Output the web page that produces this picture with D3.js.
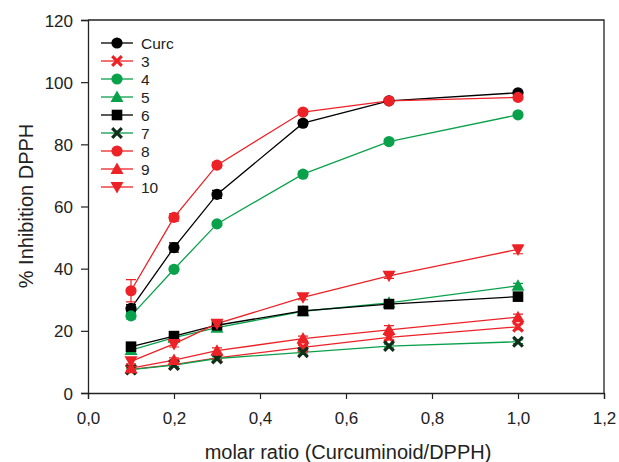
<!DOCTYPE html>
<html>
<head>
<meta charset="utf-8">
<script src="https://cdn.jsdelivr.net/npm/d3@7"></script>
<style>
  html, body { margin: 0; padding: 0; background: #fff; }
  svg { display: block; font-family: "Liberation Sans", Arial, sans-serif; }
</style>
</head>
<body>
<svg id="chart" width="619" height="462"></svg>
<script>
// Molar ratios tested
const ratios = [0.1, 0.2, 0.3, 0.5, 0.7, 1.0];

// % inhibition of DPPH per compound
const curc = [27.2, 46.8, 63.9, 86.8, 94.0, 96.6];
const c3   = [7.6, 9.1, 11.3, 14.7, 17.9, 21.3];
const c4   = [24.8, 39.8, 54.4, 70.4, 80.9, 89.5];
const c5   = [13.8, 17.8, 21.0, 26.3, 29.0, 34.5];
const c6   = [14.9, 18.3, 21.8, 26.4, 28.6, 31.0];
const c7   = [7.5, 9.0, 11.1, 13.1, 15.1, 16.5];
const c8   = [32.9, 56.5, 73.3, 90.4, 94.0, 95.1];
const c9   = [8.0, 10.6, 13.6, 17.5, 20.3, 24.4];
const c10  = [10.2, 15.8, 22.3, 30.8, 37.7, 46.2];

// Standard deviations
const errCurc = [1.2, 1.5, 1.3, 0.8, 0.6, 0.5];
const err3    = [0.5, 0.5, 0.5, 0.6, 0.8, 0.9];
const err4    = [1.0, 0.6, 0.6, 0.8, 0.7, 0.6];
const err5    = [0.8, 0.6, 0.6, 0.6, 0.7, 0.8];
const err6    = [0.9, 0.8, 0.7, 0.6, 0.8, 0.8];
const err7    = [0.5, 0.5, 0.6, 0.6, 0.6, 0.6];
const err8    = [3.6, 1.2, 0.8, 0.6, 0.6, 0.6];
const err9    = [0.6, 0.7, 0.9, 0.8, 1.4, 1.0];
const err10   = [0.8, 1.0, 0.8, 0.8, 0.8, 1.4];

const seriesNames = ["Curc", "3", "4", "5", "6", "7", "8", "9", "10"];

// Axis tick values
const xTicks = [0, 0.2, 0.4, 0.6, 0.8, 1.0, 1.2];
const yTicks = [0, 20, 40, 60, 80, 100, 120];

const RED = "#ec2227", GREEN = "#0aa14b", BLACK = "#000", DARK = "#0f2f1a";

const series = [
  { name: seriesNames[0], values: curc, err: errCurc, line: BLACK, fill: BLACK, shape: "circle" },
  { name: seriesNames[1], values: c3,   err: err3,    line: RED,   fill: RED,   shape: "cross" },
  { name: seriesNames[2], values: c4,   err: err4,    line: GREEN, fill: GREEN, shape: "circle" },
  { name: seriesNames[3], values: c5,   err: err5,    line: GREEN, fill: GREEN, shape: "triangleUp" },
  { name: seriesNames[4], values: c6,   err: err6,    line: BLACK, fill: BLACK, shape: "square" },
  { name: seriesNames[5], values: c7,   err: err7,    line: GREEN, fill: DARK,  shape: "cross" },
  { name: seriesNames[6], values: c8,   err: err8,    line: RED,   fill: RED,   shape: "circle" },
  { name: seriesNames[7], values: c9,   err: err9,    line: RED,   fill: RED,   shape: "triangleUp" },
  { name: seriesNames[8], values: c10,  err: err10,   line: RED,   fill: RED,   shape: "triangleDown" }
];

const svg = d3.select("#chart");
const plotLeft = 88, plotRight = 604, plotTop = 20, plotBottom = 393;

const x = d3.scaleLinear().domain([0, 1.2]).range([plotLeft, plotRight]);
const y = d3.scaleLinear().domain([0, 120]).range([plotBottom, plotTop]);

const fmt = d => d3.format(".1f")(d).replace(".", ",");

// Frame (top and right edges)
svg.append("path")
  .attr("d", `M${plotLeft},${plotTop}H${plotRight}V${plotBottom}`)
  .attr("fill", "none").attr("stroke", "#222").attr("stroke-width", 1.3);

// Axes
const xAxis = svg.append("g")
  .attr("transform", `translate(0,${plotBottom})`)
  .call(d3.axisBottom(x).tickValues(xTicks).tickFormat(fmt).tickSize(6).tickPadding(13));
const yAxis = svg.append("g")
  .attr("transform", `translate(${plotLeft},0)`)
  .call(d3.axisLeft(y).tickValues(yTicks).tickFormat(d3.format("d")).tickSize(7).tickPadding(8));

[xAxis, yAxis].forEach(a => {
  a.select(".domain").attr("stroke", "#222").attr("stroke-width", 1.3);
  a.selectAll(".tick line").attr("stroke", "#222").attr("stroke-width", 1.2);
  a.selectAll(".tick text").attr("fill", "#222")
    .style("font-size", "17px").style("font-family", "'Liberation Sans', Arial, sans-serif");
});
yAxis.selectAll(".tick text").attr("dy", "0.36em");

// Axis titles
svg.append("text")
  .attr("x", 348).attr("y", 459)
  .attr("text-anchor", "middle").attr("fill", "#222")
  .style("font-size", "20px")
  .text("molar ratio (Curcuminoid/DPPH)");
svg.append("text")
  .attr("transform", `translate(33,206) rotate(-90)`)
  .attr("text-anchor", "middle").attr("fill", "#222")
  .style("font-size", "20px")
  .text("% Inhibition DPPH");

// Marker drawing
function marker(g, shape, fill) {
  if (shape === "circle") {
    g.append("circle").attr("r", 5.6).attr("fill", fill);
  } else if (shape === "square") {
    g.append("rect").attr("x", -5.3).attr("y", -5.3).attr("width", 10.6).attr("height", 10.6).attr("fill", fill);
  } else if (shape === "triangleUp") {
    g.append("path").attr("d", "M0,-6.5L6.5,5L-6.5,5Z").attr("fill", fill);
  } else if (shape === "triangleDown") {
    g.append("path").attr("d", "M0,6.5L6.5,-5L-6.5,-5Z").attr("fill", fill);
  } else if (shape === "cross") {
    g.append("path").attr("d", "M-4.8,-4.8L4.8,4.8M-4.8,4.8L4.8,-4.8")
      .attr("stroke", fill).attr("stroke-width", 3.2).attr("fill", "none");
  }
}

const line = d3.line().x((d, i) => x(ratios[i])).y(d => y(d));

// Lines
series.forEach(s => {
  svg.append("path").datum(s.values)
    .attr("d", line).attr("fill", "none")
    .attr("stroke", s.line).attr("stroke-width", 1.3);
});

// Error bars and markers
series.forEach(s => {
  const g = svg.append("g");
  s.values.forEach((v, i) => {
    const cx = x(ratios[i]);
    const e = s.err[i];
    const y0 = y(v - e), y1 = y(v + e);
    g.append("path")
      .attr("d", `M${cx},${y0}V${y1}M${cx - 5},${y0}H${cx + 5}M${cx - 5},${y1}H${cx + 5}`)
      .attr("stroke", s.line).attr("stroke-width", 1.2).attr("fill", "none");
    const m = g.append("g").attr("transform", `translate(${cx},${y(v)})`);
    marker(m, s.shape, s.fill);
  });
});

// Legend
const legend = svg.append("g");
series.forEach((s, i) => {
  const ly = 43 + i * 18;
  const row = legend.append("g").attr("transform", `translate(0,${ly})`);
  row.append("line").attr("x1", 101).attr("x2", 133).attr("y1", 0).attr("y2", 0)
    .attr("stroke", s.line).attr("stroke-width", 1.3);
  marker(row.append("g").attr("transform", "translate(117,0)"), s.shape, s.fill);
  row.append("text").attr("x", 141).attr("y", 0).attr("dy", "0.36em")
    .attr("fill", "#222").style("font-size", "15.5px").text(s.name);
});
</script>
</body>
</html>
